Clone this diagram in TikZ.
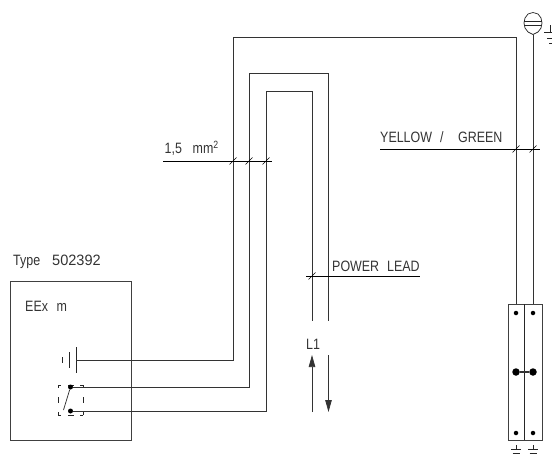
\documentclass[tikz,border=0pt]{standalone}
\usepackage{fontspec}
\setmainfont[FakeStretch=0.83]{Liberation Sans}
\newfontfamily\widefont[FakeStretch=0.97]{Liberation Sans}
\usetikzlibrary{arrows.meta}
\tikzset{
  wire/.style={line width=0.75pt,draw=black!80},
  frame/.style={line width=0.9pt,draw=black!75},
  leader/.style={line width=0.7pt,draw=black},
  slash/.style={line width=0.5pt,draw=black},
  symb/.style={line width=0.7pt,draw=black!85},
  lbl/.style={inner sep=0pt,anchor=base west,font=\fontsize{15}{17}\selectfont,text=black!80},
  blob/.style={circle,fill=black,draw=none,inner sep=0pt,minimum size=#1},
  flow/.style={wire,-{Triangle[length=12pt,width=6.5pt]}}
}
\newcommand{\tk}[1]{\draw[slash] ([shift={(-3.5pt,-3.5pt)}]#1) -- ([shift={(3.5pt,3.5pt)}]#1);}
\begin{document}
\begin{tikzpicture}[x=1pt,y=-1pt]
\useasboundingbox (0,0) rectangle (552,455);
% device box
\node[frame,draw,minimum width=121pt,minimum height=159pt,inner sep=0pt,anchor=north west] (dev) at (10,281) {};
\node[lbl] (type) at (13,265.5) {Type};
\node[lbl] (typen) at (52,265.5) {\widefont 502392};
\node[lbl] (eex) at (25,311.5) {EEx};
\node[lbl] (eexm) at (56.5,311.5) {m};
% battery
\draw[symb] (62.5,357) -- (62.5,363);
\draw[symb] (69,352) -- (69,368);
\draw[symb] (76,347) -- (76,373);
\coordinate (bat) at (76,360);
% switch: dashed frame
\foreach \xa/\xb in {58/61,68/74,80/83}{
  \draw[symb] (\xa,385) -- (\xb,385);
  \draw[symb] (\xa,415) -- (\xb,415);
}
\foreach \ya/\yb in {385/388,397/403,412/415}{
  \draw[symb] (58,\ya) -- (58,\yb);
  \draw[symb] (83,\ya) -- (83,\yb);
}
\node[blob=5pt] (sw1) at (70.5,387) {};
\node[blob=5pt] (sw2) at (70.5,411) {};
\draw[wire] (sw1) -- (63.5,410);
% wire corners
\coordinate (a1) at (233,360); \coordinate (a2) at (233,37);
\coordinate (a3) at (516,37);
\coordinate (b1) at (249,387); \coordinate (b2) at (249,73);
\coordinate (b3) at (328.5,73); \coordinate (b4) at (328.5,321);
\coordinate (c1) at (266,411); \coordinate (c2) at (266,91);
\coordinate (c3) at (312,91); \coordinate (c4) at (312,321);
% terminal block
\node[frame,draw,minimum width=34pt,minimum height=136pt,inner sep=0pt,anchor=north west] (blk) at (507.5,304) {};
\coordinate (blkL) at (516,304); \coordinate (blkR) at (533,304);
\coordinate (blkM) at (524.5,304); \coordinate (blkB) at (524.5,440);
\draw[line width=0.8pt,black!85] (blkM) -- (blkB);
\node[blob=4.5pt] (t1) at (516,313) {};
\node[blob=4.5pt] (t2) at (533,313) {};
\node[blob=7.5pt] (m1) at (516,372) {};
\node[blob=7.5pt] (m2) at (533,372) {};
\node[blob=4.5pt] (b5) at (516,433) {};
\node[blob=4.5pt] (b6) at (533,433) {};
\draw[wire,line width=1.1pt] (m1) -- (m2);
% wires
\draw[wire] (bat) -- (a1) -- (a2) -- (a3) -- (blkL);
\draw[wire] (sw1) -- (b1) -- (b2) -- (b3) -- (b4);
\draw[wire] (sw2) -- (c1) -- (c2) -- (c3) -- (c4);
% mast and top symbol
\coordinate (symB) at (533,35);
\draw[wire] (symB) -- (blkR);
\draw[symb] (533,12.5) -- (538,14) -- (541,18) -- (542,23) -- (541,28) -- (538,32) -- (533,34.5) -- (528,32) -- (525,28) -- (524,23) -- (525,18) -- (528,14) -- cycle;
\draw[symb] (524,21) -- (542,21) (524,25.5) -- (542,25.5);
% top earth
\draw[symb] (550,25) -- (550,32) (544,32) -- (552,32) (547,38.5) -- (552,38.5) (549,43) -- (552,43);
% bottom earths
\foreach \ex/\en in {516/e1,533/e2}{
  \coordinate (\en) at (\ex,449);
  \draw[symb] (\ex,445) -- (\en) (\ex-5,449) -- (\ex+5,449) (\ex-3.5,453.5) -- (\ex+3.5,453.5);
}
% leaders
\coordinate (l1a) at (163,161); \coordinate (l1b) at (272,161);
\draw[leader] (l1a) -- (l1b);
\node[lbl] (mm) at (164.5,153.5) {1,5};
\node[lbl] (mmu) at (192.5,153.5) {mm\textsuperscript{2}};
\coordinate (p1) at (233,161); \coordinate (p2) at (249,161); \coordinate (p3) at (266,161);
\tk{p1} \tk{p2} \tk{p3}
\coordinate (l2a) at (380,149); \coordinate (l2b) at (540,149);
\draw[leader] (l2a) -- (l2b);
\node[lbl] (yg) at (380,142) {YELLOW};
\node[lbl] (ygs) at (440,142) {/};
\node[lbl] (ygg) at (458,142) {GREEN};
\coordinate (p4) at (516,149); \coordinate (p5) at (533,149);
\tk{p4} \tk{p5}
\coordinate (l3a) at (306,276); \coordinate (l3b) at (420,276);
\draw[leader] (l3a) -- (l3b);
\node[lbl] (pl) at (332,271) {POWER};
\node[lbl] (pl2) at (387,271) {LEAD};
\coordinate (p6) at (312,276);
\tk{p6}
% L1 with arrows
\node[lbl] (l1) at (306,349) {L1};
\coordinate (u1) at (312,412); \coordinate (u2) at (312,355);
\coordinate (d1) at (328.5,355); \coordinate (d2) at (328.5,412);
\draw[flow] (u1) -- (u2);
\draw[flow] (d1) -- (d2);
\end{tikzpicture}
\end{document}
